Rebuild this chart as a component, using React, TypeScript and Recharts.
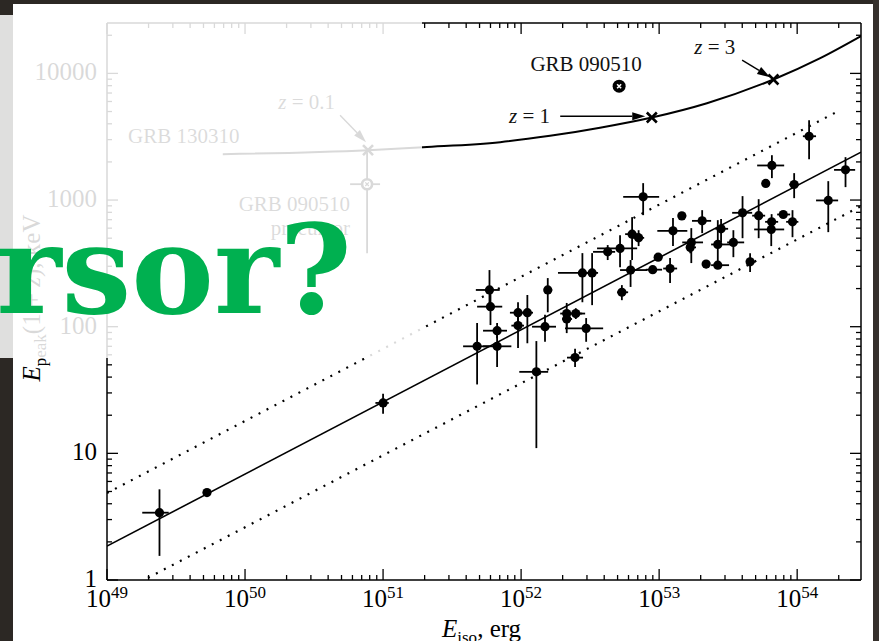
import React from 'react';
import { ComposedChart, XAxis, YAxis, Line, Scatter, ErrorBar, ReferenceLine, ReferenceDot } from 'recharts';

const FONT = "'Liberation Serif', 'Times New Roman', serif";

// ---- GRB sample: E_iso (erg) and E_peak(1+z) (keV) with error ranges ----
const eiso = [2.4e49, 5.3e49, 1.0e51, 1.29e52, 4.8e51, 6.7e51, 6.7e51, 6.0e51, 5.9e51, 9.5e51, 1.11e52, 9.5e51, 1.56e52, 1.49e52, 2.14e52, 2.14e52, 2.49e52, 2.96e52, 2.46e52, 5.37e52, 7.66e52, 6.37e52, 7.1e52, 4.24e52, 5.21e52, 2.78e52, 3.27e52, 6.21e52, 8.98e52, 9.84e52, 1.2e53, 1.46e53, 2.05e53, 1.26e53, 2.81e53, 4.02e53, 5.26e53, 7.93e53, 9.25e53, 6.53e53, 6.49e53, 1.71e53, 1.68e53, 2.66e53, 3.45e53, 2.19e53, 2.66e53, 4.56e53, 1.22e54, 6.56e53, 5.92e53, 9.51e53, 2.24e54, 1.68e54];
const eisoLow = [1.8e49, 5.3e49, 8.8e50, 9.7e51, 3.8e51, 5.3e51, 5.3e51, 4.8e51, 4.7e51, 8.3e51, 1.02e52, 8.5e51, 1.47e52, 1.2e52, 1.92e52, 1.98e52, 2.19e52, 2.08e52, 2.15e52, 4.96e52, 5.49e52, 5.67e52, 6.48e52, 3.32e52, 3.55e52, 1.85e52, 2.91e52, 5.21e52, 8.0e52, 9.3e52, 1.07e53, 1.37e53, 1.73e53, 9.7e52, 2.55e53, 3.38e53, 4.72e53, 7.16e53, 8.32e53, 5.86e53, 4.88e53, 1.47e53, 1.6e53, 2.38e53, 3.11e53, 2.05e53, 2.38e53, 4.27e53, 1.1e54, 5.13e53, 5.6e53, 8.75e53, 1.85e54, 1.37e54];
const eisoHigh = [2.8e49, 5.3e49, 1.1e51, 1.57e52, 5.9e51, 8.5e51, 7.9e51, 7.3e51, 7.0e51, 1.07e52, 1.22e52, 1.05e52, 1.68e52, 1.79e52, 2.77e52, 2.34e52, 2.91e52, 3.93e52, 2.81e52, 5.96e52, 1.0e53, 7.28e52, 7.79e52, 4.8e52, 6.93e52, 3.32e52, 3.61e52, 8.19e52, 1.05e53, 1.05e53, 1.35e53, 1.57e53, 2.38e53, 1.6e53, 3.16e53, 4.72e53, 5.86e53, 8.89e53, 1.02e54, 7.28e53, 8.05e53, 2.08e53, 1.85e53, 3.27e53, 4.13e53, 2.33e53, 3.21e53, 4.96e53, 1.37e54, 8.05e53, 6.2e53, 1.03e54, 2.63e54, 1.98e54];
const epeak = [3.4, 4.9, 25, 44, 70, 70, 93, 144, 195, 129, 129, 102, 195, 100, 127, 115, 127, 97, 57, 187, 1060, 538, 503, 390, 415, 266, 266, 280, 282, 354, 288, 750, 685, 571, 593, 793, 753, 769, 673, 673, 586, 463, 423, 446, 463, 312, 306, 325, 3190, 1875, 1352, 1327, 1731, 993];
const epeakLow = [1.55, 4.9, 20.5, 11, 35, 48, 81, 103, 135, 99, 74, 68, 130, 76, 89, 97, 115, 76, 48, 162, 760, 336, 433, 336, 295, 156, 148, 206, 282, 354, 221, 750, 548, 433, 465, 500, 500, 769, 509, 558, 433, 318, 380, 306, 354, 290, 306, 270, 2100, 1490, 1352, 1035, 1265, 558];
const epeakHigh = [5.2, 4.9, 29.5, 77, 107, 91, 107, 188, 280, 156, 178, 128, 242, 124, 154, 130, 140, 117, 67, 213, 1360, 733, 578, 441, 528, 381, 381, 336, 282, 354, 348, 750, 832, 720, 707, 1074, 1016, 769, 832, 774, 720, 600, 470, 694, 578, 335, 306, 381, 4270, 2260, 1352, 1631, 2181, 1410];

// ---- Amati relation (best fit and scatter band) ----
const fitEiso = [1e49, 2.9e54];
const fitEpeak = [1.85, 2388];
const upperEiso = [1e49, 1.98e54];
const upperEpeak = [4.86, 5030];
const lowerEiso = [1.98e49, 2.9e54];
const lowerEpeak = [1.04, 895];

// ---- GRB 090510 / 130310 redshift track ----
const trackEiso = [6.9e49, 7.78e50, 1.95e51, 7.05e51, 1.62e52, 3.73e52, 8.85e52, 2.22e53, 6.73e53, 1.47e54, 2.9e54];
const trackEpeak = [2303, 2477, 2616, 2864, 3213, 3727, 4487, 5820, 8954, 13183, 19680];
const zLabels = ['z = 0.1', 'z = 1', 'z = 3'];
const zEiso = [7.78e50, 8.85e52, 6.73e53];
const zEpeak = [2477, 4487, 8954];

// ---- GRB 090510 main pulse and precursor ----
const mainEiso = [5.13e52];
const mainEpeak = [7925];
const precEiso = [7.66e50];
const precEisoRange = [5.77e50, 9.51e50];
const precEpeak = [1334];
const precEpeakRange = [381, 2388];

// ---- axis ticks ----
const xMajor = [1e49, 1e50, 1e51, 1e52, 1e53, 1e54];
const yMajor = [1, 10, 100, 1000, 10000];
const X_DOMAIN: [number, number] = [1e49, 2.9e54];
const Y_DOMAIN: [number, number] = [1, 25000];
const mult = [1, 2, 3, 4, 5, 6, 7, 8, 9];
const xTicks = xMajor.flatMap((d) => mult.map((m) => m * d)).filter((v) => v <= X_DOMAIN[1]);
const yTicks = yMajor.flatMap((d) => mult.map((m) => m * d)).filter((v) => v <= Y_DOMAIN[1]);

const grbPoints = eiso.map((x, i) => ({
  x,
  y: epeak[i],
  ex: [x - eisoLow[i], eisoHigh[i] - x],
  ey: [epeak[i] - epeakLow[i], epeakHigh[i] - epeak[i]],
}));
const toXY = (xs: number[], ys: number[]) => xs.map((x, i) => ({ x, y: ys[i] }));
const fitData = toXY(fitEiso, fitEpeak);
const upperData = toXY(upperEiso, upperEpeak);
const lowerData = toXY(lowerEiso, lowerEpeak);
const trackData = toXY(trackEiso, trackEpeak);
const zData = toXY(zEiso, zEpeak);
const mainData = toXY(mainEiso, mainEpeak);
const precData = precEiso.map((x, i) => ({
  x,
  y: precEpeak[i],
  ex: [x - precEisoRange[0], precEisoRange[1] - x],
  ey: [precEpeak[i] - precEpeakRange[0], precEpeakRange[1] - precEpeak[i]],
}));

const isMajor = (v: number) => {
  const l = Math.log10(v);
  return Math.abs(l - Math.round(l)) < 1e-9;
};
const MAJ = 11;
const MIN = 5;
const TW = 1.3;

const BottomTick = (p: any) => {
  const { x, y, payload } = p;
  const maj = isMajor(payload.value);
  return (
    <g>
      <line x1={x} y1={y} x2={x} y2={y - (maj ? MAJ : MIN)} stroke="#000" strokeWidth={TW} />
      {maj && (
        <text x={x} y={y + 27} textAnchor="middle" fontFamily={FONT} fontSize={25} fill="#000">
          10<tspan dy={-9} fontSize={17}>{Math.round(Math.log10(payload.value))}</tspan>
        </text>
      )}
    </g>
  );
};
const TopTick = (p: any) => {
  const { x, y, payload } = p;
  const maj = isMajor(payload.value);
  return <line x1={x} y1={y} x2={x} y2={y + (maj ? MAJ : MIN)} stroke="#000" strokeWidth={TW} />;
};
const LeftTick = (p: any) => {
  const { x, y, payload } = p;
  const maj = isMajor(payload.value);
  return (
    <g>
      <line x1={x} y1={y} x2={x + (maj ? MAJ : MIN)} y2={y} stroke="#000" strokeWidth={TW} />
      {maj && (
        <text x={x - 10} y={y + 7} textAnchor="end" fontFamily={FONT} fontSize={25} fill="#000">
          {String(Math.round(payload.value))}
        </text>
      )}
    </g>
  );
};
const RightTick = (p: any) => {
  const { x, y, payload } = p;
  const maj = isMajor(payload.value);
  return <line x1={x} y1={y} x2={x - (maj ? MAJ : MIN)} y2={y} stroke="#000" strokeWidth={TW} />;
};

const Arrow = (p: any) => {
  const { x1, y1, x2, y2 } = p;
  const a = Math.atan2(y2 - y1, x2 - x1);
  const L = 13;
  const W = 4;
  const bx = x2 - L * Math.cos(a);
  const by = y2 - L * Math.sin(a);
  const nx = -Math.sin(a) * W;
  const ny = Math.cos(a) * W;
  return (
    <g>
      <line x1={x1} y1={y1} x2={bx} y2={by} stroke="#000" strokeWidth={1.4} />
      <polygon points={`${x2},${y2} ${bx + nx},${by + ny} ${bx - nx},${by - ny}`} fill="#000" />
    </g>
  );
};

const labelShape = (text: React.ReactNode, anchor: 'start' | 'middle' | 'end') => (p: any) => (
  <text x={p.cx} y={p.cy} textAnchor={anchor} fontFamily={FONT} fontSize={21} fill="#111">
    {text}
  </text>
);
const zText = (s: string) => (
  <>
    <tspan fontStyle="italic">z</tspan>
    {s.slice(1)}
  </>
);

const AX = { xAxisId: 'b', yAxisId: 'l' } as const;
const axisLine = { stroke: '#000', strokeWidth: 1.5 };

const Chart = () => (
  <ComposedChart width={879} height={641} margin={{ top: 22, right: 17, bottom: 60, left: 106 }}>
    <XAxis xAxisId="b" dataKey="x" type="number" scale="log" domain={X_DOMAIN} allowDataOverflow ticks={xTicks} interval={0}
      tickSize={0} tickMargin={0} tickLine={false} axisLine={axisLine} tick={(p: any) => <BottomTick {...p} />} height={1} orientation="bottom" />
    <XAxis xAxisId="t" dataKey="x" type="number" scale="log" domain={X_DOMAIN} allowDataOverflow ticks={xTicks} interval={0}
      tickSize={0} tickMargin={0} tickLine={false} axisLine={axisLine} tick={(p: any) => <TopTick {...p} />} height={1} orientation="top" />
    <YAxis yAxisId="l" type="number" scale="log" domain={Y_DOMAIN} allowDataOverflow ticks={yTicks} interval={0}
      tickSize={0} tickMargin={0} tickLine={false} axisLine={axisLine} tick={(p: any) => <LeftTick {...p} />} width={1} orientation="left" />
    <YAxis yAxisId="r" type="number" scale="log" domain={Y_DOMAIN} allowDataOverflow ticks={yTicks} interval={0}
      tickSize={0} tickMargin={0} tickLine={false} axisLine={axisLine} tick={(p: any) => <RightTick {...p} />} width={1} orientation="right" />

    <Line {...AX} data={upperData} dataKey="y" type="linear" stroke="#000" strokeWidth={2.2} strokeDasharray="2 7" dot={false} isAnimationActive={false} />
    <Line {...AX} data={lowerData} dataKey="y" type="linear" stroke="#000" strokeWidth={2.2} strokeDasharray="2 7" dot={false} isAnimationActive={false} />
    <Line {...AX} data={fitData} dataKey="y" type="linear" stroke="#000" strokeWidth={1.6} dot={false} isAnimationActive={false} />
    <Line {...AX} data={trackData} dataKey="y" type="monotone" stroke="#000" strokeWidth={2} dot={false} isAnimationActive={false} />

    <Scatter {...AX} data={grbPoints} dataKey="y" isAnimationActive={false}
      shape={(p: any) => <circle cx={p.cx} cy={p.cy} r={4.6} fill="#000" />}>
      <ErrorBar dataKey="ex" direction="x" width={0} stroke="#000" strokeWidth={1.8} isAnimationActive={false} />
      <ErrorBar dataKey="ey" direction="y" width={0} stroke="#000" strokeWidth={1.8} isAnimationActive={false} />
    </Scatter>

    <Scatter {...AX} data={precData} dataKey="y" isAnimationActive={false}
      shape={(p: any) => (
        <g>
          <circle cx={p.cx} cy={p.cy} r={5} fill="#fff" stroke="#000" strokeWidth={2.6} />
          <path d={`M${p.cx - 1.8},${p.cy - 1.8}L${p.cx + 1.8},${p.cy + 1.8}M${p.cx - 1.8},${p.cy + 1.8}L${p.cx + 1.8},${p.cy - 1.8}`} stroke="#000" strokeWidth={1.2} />
        </g>
      )}>
      <ErrorBar dataKey="ex" direction="x" width={0} stroke="#000" strokeWidth={1.8} isAnimationActive={false} />
      <ErrorBar dataKey="ey" direction="y" width={0} stroke="#000" strokeWidth={1.8} isAnimationActive={false} />
    </Scatter>

    <Scatter {...AX} data={mainData} dataKey="y" isAnimationActive={false}
      shape={(p: any) => (
        <g>
          <circle cx={p.cx} cy={p.cy} r={6.5} fill="#000" />
          <path d={`M${p.cx - 2},${p.cy - 2}L${p.cx + 2},${p.cy + 2}M${p.cx - 2},${p.cy + 2}L${p.cx + 2},${p.cy - 2}`} stroke="#fff" strokeWidth={1.6} />
        </g>
      )} />

    <Scatter {...AX} data={zData} dataKey="y" isAnimationActive={false}
      shape={(p: any) => (
        <path d={`M${p.cx - 5},${p.cy - 5}L${p.cx + 5},${p.cy + 5}M${p.cx - 5},${p.cy + 5}L${p.cx + 5},${p.cy - 5}`} stroke="#000" strokeWidth={2.6} />
      )} />

    <ReferenceLine {...AX} segment={[{ x: 1.92e52, y: 4592 }, { x: 7.93e52, y: 4592 }]} ifOverflow="visible" shape={Arrow} />
    <ReferenceLine {...AX} segment={[{ x: 3.99e53, y: 12710 }, { x: 6.37e53, y: 9333 }]} ifOverflow="visible" shape={Arrow} />
    <ReferenceLine {...AX} segment={[{ x: 4.88e50, y: 4677 }, { x: 7.53e50, y: 2864 }]} ifOverflow="visible" shape={Arrow} />

    <ReferenceDot {...AX} x={2.96e52} y={10400} r={0} ifOverflow="visible" shape={labelShape('GRB 090510', 'middle')} />
    <ReferenceDot {...AX} x={1.62e52} y={4046} r={0} ifOverflow="visible" shape={labelShape(zText(zLabels[1]), 'end')} />
    <ReferenceDot {...AX} x={3.56e53} y={14190} r={0} ifOverflow="visible" shape={labelShape(zText(zLabels[2]), 'end')} />
    <ReferenceDot {...AX} x={4.49e50} y={5215} r={0} ifOverflow="visible" shape={labelShape(zText(zLabels[0]), 'end')} />
    <ReferenceDot {...AX} x={1.42e49} y={2812} r={0} ifOverflow="visible" shape={labelShape('GRB 130310', 'start')} />
    <ReferenceDot {...AX} x={5.77e50} y={817} r={0} ifOverflow="visible" shape={labelShape('GRB 090510', 'end')} />
    <ReferenceDot {...AX} x={5.77e50} y={528} r={0} ifOverflow="visible" shape={labelShape('precursor', 'end')} />
  </ComposedChart>
);

export default function App() {
  return (
    <div style={{ position: 'fixed', left: 0, top: 0, width: 879, height: 641, overflow: 'hidden', background: '#2c2824' }}>
      <div style={{ position: 'absolute', left: 13, top: 4, width: 860, height: 637, background: '#fff' }} />
      <div style={{ position: 'absolute', left: 0, top: 0 }}>
        <Chart />
      </div>
      <svg width={879} height={641} style={{ position: 'absolute', left: 0, top: 0 }}>
        <text x={442} y={637} fontFamily={FONT} fontSize={25} fill="#000">
          <tspan fontStyle="italic">E</tspan>
          <tspan fontSize={17} dy={6}>iso</tspan>
          <tspan dy={-6}>, erg</tspan>
        </text>
        <text transform="translate(40,298) rotate(-90)" textAnchor="middle" fontFamily={FONT} fontSize={25} fill="#000">
          <tspan fontStyle="italic">E</tspan>
          <tspan fontSize={17} dy={6}>peak</tspan>
          <tspan dy={-6}>(1 + </tspan>
          <tspan fontStyle="italic">z</tspan>
          <tspan>), keV</tspan>
        </text>
      </svg>
      <div style={{ position: 'absolute', left: 0, top: 15, width: 422, height: 343, background: 'rgba(255,255,255,0.85)' }} />
      <svg width={879} height={641} style={{ position: 'absolute', left: 0, top: 0 }}>
        <text x={352} y={313} textAnchor="end" fontFamily="'DejaVu Serif', serif" fontWeight="bold" fontSize={124} fill="#00b050">
          rsor?
        </text>
      </svg>
      <div style={{ position: 'absolute', left: 873, top: 0, width: 6, height: 641, background: '#35302c' }} />
    </div>
  );
}
